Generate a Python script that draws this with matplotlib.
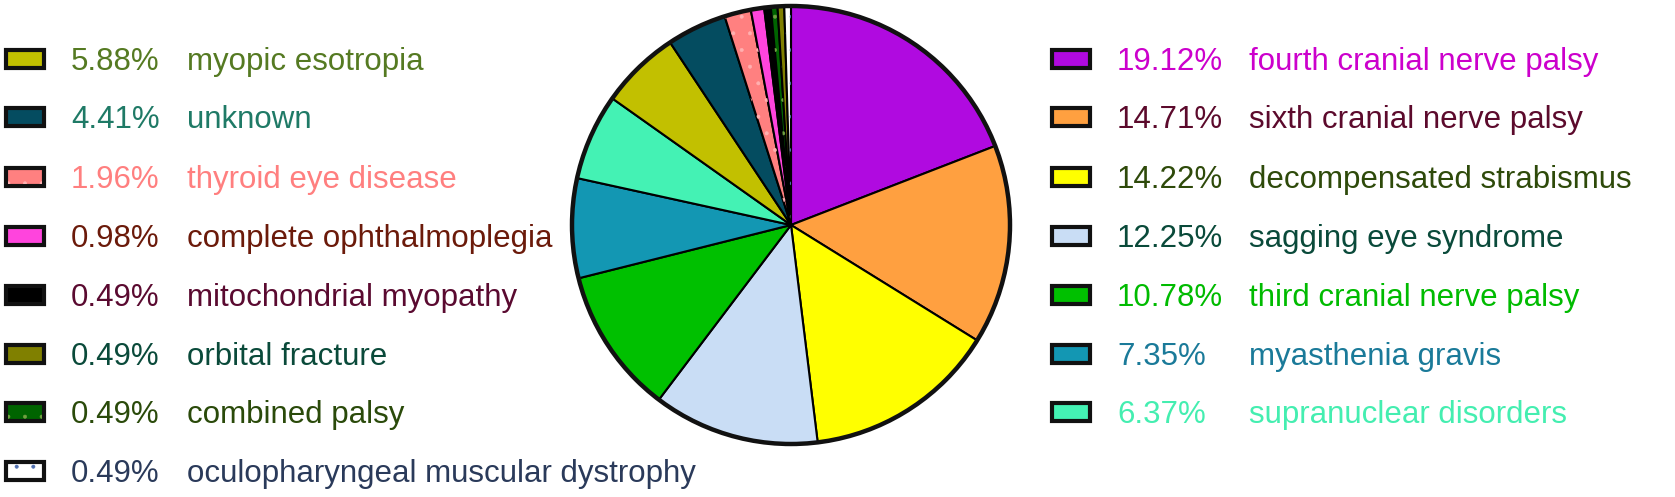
import matplotlib
matplotlib.use('Agg')
import matplotlib.pyplot as plt
from matplotlib.patches import Rectangle, Circle, Wedge

plt.rcParams['font.family'] = ['Liberation Sans', 'DejaVu Sans']
plt.rcParams['hatch.linewidth'] = 0.4

# 파이 순서 (12시 방향부터 시계방향)
labels = ['fourth cranial nerve palsy', 'sixth cranial nerve palsy', 'decompensated strabismus',
          'sagging eye syndrome', 'third cranial nerve palsy', 'myasthenia gravis',
          'supranuclear disorders', 'myopic esotropia', 'unknown', 'thyroid eye disease',
          'complete ophthalmoplegia', 'mitochondrial myopathy', 'combined palsy',
          'orbital fracture', 'oculopharyngeal muscular dystrophy']
pcts = [19.12, 14.71, 14.22, 12.25, 10.78, 7.35, 6.37, 5.88, 4.41, 1.96, 0.98, 0.49, 0.49, 0.49, 0.49]
colors = ['#b00ae0', '#ffa040', '#ffff00', '#c9ddf5', '#00c000', '#1397b3', '#44f2b4',
          '#c2c000', '#044c60', '#ff8080', '#ff44dd', '#000000', '#006400', '#808000', '#ffffff']
text_colors = ['#cc00cc', '#5c0a2c', '#2e4a0a', '#0a4a3a', '#00bb00', '#1a7a99', '#44eeb0',
               '#557a22', '#1f7a66', '#ff7f7f', '#6b1a0a', '#5a0a30', '#2a4a0a', '#0a4a3a', '#2a3a5a']
# 점무늬 (hatch) 색상, 없으면 None
dots = [None] * 9 + ['#ffb0b0', None, None, '#70a040', None, '#5070b0']

# 범례 배치 : 오른쪽 7개, 왼쪽 8개
right_idx = [0, 1, 2, 3, 4, 5, 6]
left_idx = [7, 8, 9, 10, 11, 13, 12, 14]

W, H = 1675, 497
fig = plt.figure(figsize=(W / 100, H / 100), dpi=100)
ax = fig.add_axes([0, 0, 1, 1])

cx, cy, r = 791, H - 225, 219
wedges, _ = ax.pie(pcts, colors=colors, startangle=90, counterclock=False,
                   center=(cx, cy), radius=r, frame=True,
                   wedgeprops=dict(edgecolor='black', linewidth=1.5))
ax.set_xlim(0, W)
ax.set_ylim(0, H)
ax.set_aspect('equal')
ax.axis('off')
for w, d in zip(wedges, dots):
    if d:
        ax.add_patch(Wedge(w.center, w.r, w.theta1, w.theta2, fill=False,
                           edgecolor=d, hatch='.', linewidth=0))
ax.add_patch(Circle((cx, cy), r, fill=False, edgecolor='#111111', linewidth=3.2, zorder=5))

row_y = [59, 117, 177, 236, 295, 354, 412, 471]


def legend_row(i, y, x_box, x_pct, x_lab):
    yy = H - y
    ax.add_patch(Rectangle((x_box, yy - 9), 38, 18, facecolor=colors[i],
                           edgecolor='#111111', linewidth=3))
    if dots[i]:
        ax.add_patch(Rectangle((x_box + 2, yy - 7), 34, 14, fill=False,
                               edgecolor=dots[i], hatch='.', linewidth=0))
    ax.text(x_pct, yy - 11, f'{pcts[i]:.2f}%', color=text_colors[i], fontsize=22.5, va='baseline')
    ax.text(x_lab, yy - 11, labels[i], color=text_colors[i], fontsize=22.5, va='baseline')


for k, i in enumerate(right_idx):
    legend_row(i, row_y[k], 1052, 1117, 1249)
for k, i in enumerate(left_idx):
    legend_row(i, row_y[k], 6, 71, 187)

fig.savefig('out.png', dpi=100)
